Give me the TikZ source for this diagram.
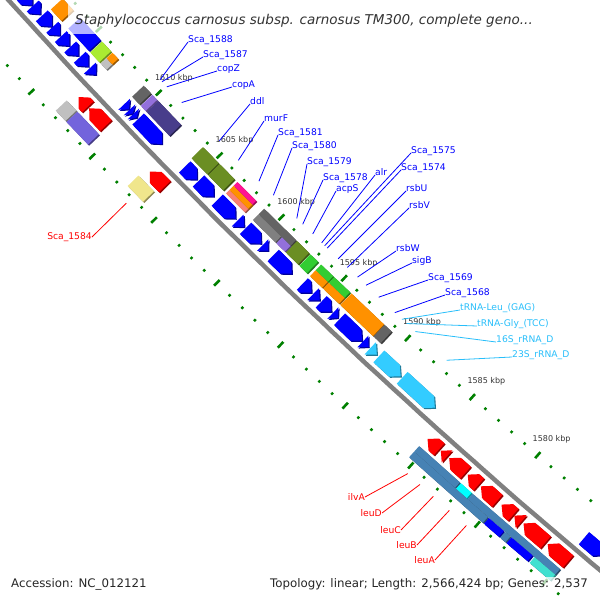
\documentclass[tikz,border=0pt]{standalone}
\usepackage{fontspec}
\setmainfont{DejaVu Sans}
\usetikzlibrary{calc}

\definecolor{cdsblue}{RGB}{0,0,255}
\definecolor{cdsred}{RGB}{255,0,0}
\definecolor{rnacyan}{RGB}{51,204,255}
\definecolor{cogorange}{RGB}{255,145,0}
\definecolor{cogolive}{RGB}{107,142,35}
\definecolor{coglime}{RGB}{170,235,50}
\definecolor{coggreen}{RGB}{50,205,50}
\definecolor{cogslate}{RGB}{72,61,139}
\definecolor{cogpurple}{RGB}{147,112,219}
\definecolor{cogmslate}{RGB}{115,100,220}
\definecolor{coggray}{RGB}{128,128,128}
\definecolor{coglgray}{RGB}{192,192,192}
\definecolor{cogdgray}{RGB}{100,100,100}
\definecolor{cogkhaki}{RGB}{240,230,140}
\definecolor{cogsteel}{RGB}{70,130,180}
\definecolor{cogmag}{RGB}{255,20,147}
\definecolor{cogsalmon}{RGB}{250,128,114}
\definecolor{cogcyan}{RGB}{0,255,255}
\definecolor{cogturq}{RGB}{64,224,208}
\definecolor{rulergreen}{RGB}{0,128,0}
\definecolor{labblue}{RGB}{0,0,255}
\definecolor{labcyan}{RGB}{40,190,250}

\tikzstyle{backbone} = [draw=gray, line width=4.5pt]
\tikzstyle{minor} = [draw=rulergreen, line width=2.4pt]
\tikzstyle{major} = [draw=rulergreen, line width=2.6pt]
\tikzstyle{kbp} = [font=\fontsize{8}{9}\selectfont, text=black!80, inner sep=0pt]
\tikzstyle{glab} = [font=\fontsize{9.2}{10}\selectfont, inner sep=0pt, anchor=base west]
\tikzstyle{rlab} = [font=\fontsize{9.2}{10}\selectfont, text=red, inner sep=0pt, anchor=east]
\tikzstyle{lead} = [line width=0.8pt]
\tikzstyle{title} = [font=\fontsize{13.5}{15}\selectfont\itshape, text=black!80, inner sep=0pt, anchor=base west]
\tikzstyle{foot} = [font=\fontsize{11.8}{13}\selectfont, text=black!85, inner sep=1pt]

% angle on the map circle: s is the pixel sum x+y along the backbone, k is kbp
\tikzset{declare function={ang(\s)=138.033-0.006932*\s; kang(\k)=136.3-(1610-\k)*0.1733;}}

% one coloured block from s1 to s2 between radii r1 and r2
\newcommand{\cogbox}[5]{%
\fill[#5!60!black,shift={(1.2,1.2)}] ({ang(#1)}:#3) -- ({ang(#2)}:#3) -- ({ang(#2)}:#4) -- ({ang(#1)}:#4) -- cycle;
\fill[#5] ({ang(#1)}:#3) -- ({ang(#2)}:#3) -- ({ang(#2)}:#4) -- ({ang(#1)}:#4) -- cycle;}

% gene arrow on the inner side, head at s2
\newcommand{\cdsin}[3]{%
\pgfmathsetmacro{\hs}{max(#1,#2-12)}%
\fill[#3!60!black,shift={(1.2,1.2)}] ({ang(#1)}:5822) -- ({ang(\hs)}:5822) -- ({ang(#2)}:5814) -- ({ang(\hs)}:5806) -- ({ang(#1)}:5806) -- cycle;
\fill[#3] ({ang(#1)}:5822) -- ({ang(\hs)}:5822) -- ({ang(#2)}:5814) -- ({ang(\hs)}:5806) -- ({ang(#1)}:5806) -- cycle;}

% gene arrow on the outer side, head at s1
\newcommand{\cdsout}[3]{%
\pgfmathsetmacro{\hs}{min(#2,#1+12)}%
\fill[#3!60!black,shift={(1.2,1.2)}] ({ang(#1)}:5842) -- ({ang(\hs)}:5834) -- ({ang(#2)}:5834) -- ({ang(#2)}:5850) -- ({ang(\hs)}:5850) -- cycle;
\fill[#3] ({ang(#1)}:5842) -- ({ang(\hs)}:5834) -- ({ang(#2)}:5834) -- ({ang(#2)}:5850) -- ({ang(\hs)}:5850) -- cycle;}

\begin{document}
\begin{tikzpicture}[x=1pt,y=-1pt]
\useasboundingbox (0,0) rectangle (600,600);
\clip (0,0) rectangle (600,600);
\coordinate (O) at (4338,-3901);

\begin{scope}[shift={(4338,-3901)}]
% backbone
\draw[backbone] plot[domain=129.3:138.6, samples=80] (\x:5828);

% genes, inner strand
\foreach \a/\b in {-20/13,16/36,37/53,56/77,78/94,96/114,116/133,136/154,157/170,228/238,239/246,247/254,257/306,352/377,380/411,418/455,459/472,475/506,509/520,530/567,588/606,609/622,625/645,648/658,661/705,707/718,1128/1165}
{
\cdsin{\a}{\b}{cdsblue}
}
\cdsin{721}{734}{rnacyan}
\cdsin{738}{780}{rnacyan}
\cdsin{783}{846}{rnacyan}

% genes, outer strand
\foreach \a/\b in {176/195,198/232,322/352,868/890,893/905,909/940,944/965,969/1000,1008/1030,1032/1045,1049/1090,1094/1132}
{
\cdsout{\a}{\b}{cdsred}
}

% COG blocks, inner side
\cogbox{58}{80}{5803}{5787}{cogorange}
\cogbox{95}{138}{5803}{5787}{cdsblue}
\cogbox{141}{160}{5803}{5787}{coglime}
\cogbox{163}{175}{5803}{5795}{coglgray}
\cogbox{163}{175}{5795}{5787}{cogorange}
\cogbox{228}{243}{5803}{5787}{cogdgray}
\cogbox{246}{256}{5803}{5787}{cogpurple}
\cogbox{258}{305}{5803}{5787}{cogslate}
\cogbox{350}{382}{5803}{5787}{cogolive}
\cogbox{384}{414}{5803}{5787}{cogolive}
\cogbox{420}{458}{5803}{5798}{cogsalmon}
\cogbox{420}{458}{5798}{5792}{cogorange}
\cogbox{420}{458}{5792}{5787}{cogmag}
\cogbox{474}{538}{5795}{5787}{cogdgray}
\cogbox{474}{519}{5803}{5795}{coggray}
\cogbox{521}{538}{5803}{5795}{cogpurple}
\cogbox{540}{564}{5803}{5787}{cogolive}
\cogbox{567}{582}{5803}{5787}{coggreen}
\cogbox{588}{612}{5795}{5787}{coggreen}
\cogbox{588}{612}{5803}{5795}{cogorange}
\cogbox{614}{645}{5795}{5787}{coggreen}
\cogbox{614}{645}{5803}{5795}{cogorange}
\cogbox{648}{712}{5803}{5787}{cogorange}
\cogbox{713}{727}{5803}{5787}{cogdgray}

% COG blocks, outer side
\cogbox{168}{188}{5853}{5868}{coglgray}
\cogbox{190}{234}{5853}{5868}{cogmslate}
\cogbox{315}{346}{5853}{5868}{cogkhaki}
\cogbox{866}{943}{5853}{5860.5}{cogsteel}
\cogbox{945}{965}{5853}{5860.5}{cogcyan}
\cogbox{967}{1130}{5853}{5860.5}{cogsteel}
\cogbox{866}{1005}{5860.5}{5868}{cogsteel}
\cogbox{1007}{1035}{5860.5}{5868}{cdsblue}
\cogbox{1037}{1047}{5860.5}{5868}{cogsteel}
\cogbox{1049}{1088}{5860.5}{5868}{cdsblue}
\cogbox{1092}{1130}{5860.5}{5868}{cogturq}

% ruler ticks, both sides
\foreach \k in {1570,...,1620}
{
\pgfmathtruncatemacro{\m}{mod(\k,5)}
\ifnum\m=0
\draw[major] ({kang(\k)}:5777) -- ({kang(\k)}:5785);
\draw[major] ({kang(\k)}:5869) -- ({kang(\k)}:5877);
\else
\draw[minor] ({kang(\k)}:5779.7) -- ({kang(\k)}:5782.3);
\draw[minor] ({kang(\k)}:5871.7) -- ({kang(\k)}:5874.3);
\fi
}
\foreach \k in {1580,1585,...,1610}
{
\node[kbp] (kb\k) at ({kang(\k)}:5760) {\k\ kbp};
}
\end{scope}

% labels, inner side
\foreach \n/\s/\x/\y/\t in {1588/238/188/42/Sca\_1588, 1587/242/203/57/Sca\_1587, copZ/252/217/71/copZ, copA/283/232/87/copA, ddl/360/250/104/ddl, murF/399/264/121/murF, 1581/441/278/135/Sca\_1581, 1580/470/292/148/Sca\_1580, 1579/517/307/164/Sca\_1579, 1578/529/323/180/Sca\_1578, acpS/549/336/191/acpS, alr/567/375/175/alr, 1575/573/411/153/Sca\_1575, 1574/578/401/170/Sca\_1574, rsbU/600/406/191/rsbU, rsbV/618/409/208/rsbV, rsbW/638/396/251/rsbW, sigB/655/412/263/sigB, 1569/680/428/280/Sca\_1569, 1568/712/445/295/Sca\_1568}
{
\node[glab, text=labblue] (l\n) at (\x,\y) {\t};
\coordinate (e\n) at ($(O)+({ang(\s)}:5771)$);
\draw[lead, labblue] (l\n.base west) -- (e\n);
}
\foreach \n/\s/\x/\y/\t in {tLeu/726/460/310/tRNA-Leu\_(GAG), tGly/735/477/326/tRNA-Gly\_(TCC), r16S/752/496/342/16S\_rRNA\_D, r23S/813/512/357/23S\_rRNA\_D}
{
\node[glab, text=labcyan] (l\n) at (\x,\y) {\t};
\coordinate (e\n) at ($(O)+({ang(\s)}:5771)$);
\draw[lead, labcyan] (l\n.base west) -- (e\n);
}

% labels, outer side
\foreach \n/\s/\x/\y/\t in {1584/331/92/237/Sca\_1584, ilvA/880/365/497/ilvA, leuD/903/382/513/leuD, leuC/928/401/530/leuC, leuB/958/417/545/leuB, leuA/990/435/560/leuA}
{
\node[rlab] (l\n) at (\x,\y) {\t};
\coordinate (e\n) at ($(O)+({ang(\s)}:5881)$);
\draw[lead, red] (l\n.east) -- (e\n);
}

% title and footer
\fill[white, opacity=0.7] (68,0) rectangle (545,34);
\node[title] (ttl) at (75,24) {Staphylococcus carnosus subsp. carnosus TM300, complete geno...};
\node[foot, anchor=base west, fill=white, fill opacity=0.7, text opacity=1] (acc) at (10,587) {Accession: NC\_012121};
\node[foot, anchor=base east, fill=white, fill opacity=0.7, text opacity=1] (topo) at (589,587) {Topology: linear; Length: 2,566,424 bp; Genes: 2,537};
\end{tikzpicture}
\end{document}
